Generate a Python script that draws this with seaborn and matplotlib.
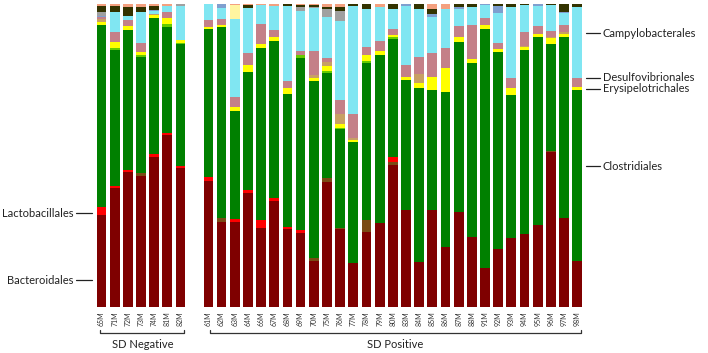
import numpy as np
import pandas as pd
import seaborn as sns
import matplotlib.pyplot as plt

sns.set_style("white")
plt.rcParams['font.family'] = ['Lato', 'DejaVu Sans']

# samples in plotting order
neg_samples = ["65M", "71M", "72M", "73M", "74M", "81M", "82M"]
pos_samples = ["61M", "62M", "63M", "64M", "66M", "67M", "68M", "69M", "70M", "75M",
               "76M", "77M", "78M", "79M", "80M", "83M", "84M", "85M", "86M", "87M",
               "88M", "91M", "92M", "93M", "94M", "95M", "96M", "97M", "98M"]

# relative abundance (%) per order, bottom to top of each bar
bacteroidales = [30.4, 39.3, 44.6, 43.2, 49.5, 56.8, 45.9,
                 41.6, 28.1, 28.1, 37.6, 26.1, 35.0, 25.7, 24.4, 15.2, 41.3,
                 25.7, 14.5, 24.8, 27.7, 46.9, 32.0, 14.9, 32.0, 19.8, 31.4,
                 23.1, 12.9, 19.1, 22.8, 24.1, 27.1, 51.2, 29.4, 15.2]
brown_other = [0, 0, 0, 1.0, 0, 0, 0,
               0, 1.3, 0, 0, 0, 0, 0, 0, 1.0, 1.3,
               0.3, 0, 4.0, 0, 1.0, 0, 0, 0, 0, 0,
               0, 0, 0, 0, 0, 0, 0.3, 0, 0]
lactobacillales = [2.6, 0.7, 0.5, 0, 1.0, 0.7, 0.7,
                   1.3, 0, 1.0, 1.0, 2.6, 1.0, 0.7, 1.0, 0, 0,
                   0, 0, 0, 0, 1.7, 0, 0, 0, 0, 0,
                   0, 0, 0, 0, 0, 0, 0, 0, 0]
clostridiales = [60.1, 44.9, 46.2, 38.3, 44.9, 35.0, 40.3,
                 48.8, 63.0, 35.6, 38.9, 56.8, 51.8, 43.9, 56.8, 58.4, 34.7,
                 32.7, 39.9, 51.8, 55.4, 38.9, 42.9, 57.4, 39.6, 51.2, 56.1,
                 57.5, 78.9, 65.0, 47.2, 60.7, 62.0, 35.3, 59.7, 56.4]
lime_other = [0, 0.7, 0, 0.7, 0, 1.0, 0.3,
              0, 0, 0, 0, 0, 0, 0, 1.0, 0, 0.7,
              0.3, 0, 0.7, 0, 0.7, 0, 0, 0, 0, 0,
              0, 0, 0, 0, 0, 0, 0, 0, 0]
erysipelotrichales = [1.0, 1.7, 1.3, 1.0, 1.0, 2.0, 1.0,
                      0.7, 0.7, 1.3, 2.3, 1.3, 1.3, 2.0, 0, 1.0, 1.7,
                      1.3, 0.7, 2.0, 1.3, 0.7, 1.0, 1.7, 4.3, 7.9, 1.7,
                      1.3, 1.3, 1.0, 2.3, 1.0, 1.0, 2.0, 1.0, 1.0]
tan_other = [1.0, 0, 0, 0, 0.3, 0, 0,
             0, 0, 0, 0, 0, 0, 0, 0, 1.0, 1.3,
             3.3, 0.7, 0, 0, 0, 0, 3.0, 0, 0, 0,
             0, 0, 0, 0, 0.3, 0, 0.3, 0.7, 0]
desulfovibrionales = [0.7, 3.3, 2.0, 3.0, 0, 1.7, 0,
                      2.3, 2.0, 3.3, 4.0, 6.6, 2.3, 2.3, 1.3, 7.9, 1.3,
                      4.6, 7.8, 2.6, 3.3, 2.0, 4.0, 5.6, 7.9, 6.6, 3.6,
                      11.2, 2.3, 2.0, 3.3, 4.6, 2.6, 2.0, 2.3, 3.0]
campylobacterales = [0, 6.6, 1.3, 10.1, 1.0, 2.3, 11.2,
                     5.3, 3.6, 25.7, 14.9, 6.3, 7.9, 24.7, 13.2, 14.2, 13.4,
                     26.2, 35.7, 12.4, 11.3, 6.4, 19.4, 15.7, 11.8, 12.8, 5.6,
                     5.9, 4.3, 9.9, 23.4, 9.0, 6.6, 8.6, 4.0, 23.4]
paleyellow_other = [0, 0, 0, 0, 0, 0, 0,
                    0, 0, 4.6, 0, 0, 0, 0, 0, 0, 0,
                    0, 0, 0, 0, 0, 0, 0, 0, 0, 0,
                    0, 0, 0, 0, 0, 0, 0, 0, 0]
steel_other = [0.3, 0, 0, 0, 0.3, 0, 0,
               0, 1.3, 0, 0, 0, 0, 0, 0, 0, 0,
               0, 0, 0, 0, 0, 0.7, 0, 1.0, 0, 0.6,
               0, 0.3, 2.3, 0, 0, 0.7, 0, 0.3, 0]
gray_other = [1.3, 0, 0, 0, 0, 0, 0.6,
              0, 0, 0, 0, 0, 0, 0, 1.3, 0.3, 2.6,
              3.3, 0, 0, 0, 0, 0, 0, 0, 0, 0,
              0, 0, 0, 0, 0, 0, 0, 0, 0]
olive_other = [2.0, 2.0, 3.0, 1.7, 1.3, 0, 0,
               0, 0, 0, 1.0, 0, 0, 0.7, 0.7, 0.7, 0.7,
               1.3, 0.7, 1.7, 0, 1.7, 0, 1.7, 1.7, 0, 1.0,
               1.0, 0, 0.7, 1.0, 0.3, 0, 0.3, 2.6, 1.0]
salmon_other = [0.6, 0.8, 1.1, 1.0, 0.7, 0.5, 0,
                0, 0, 0.4, 0.3, 0.3, 0.7, 0, 0.3, 0.3, 1.0,
                1.0, 0, 0, 1.0, 0, 0, 0, 1.7, 1.7, 0,
                0, 0, 0, 0, 0, 0, 0, 0, 0]

layers = [
    ("Bacteroidales", bacteroidales, "#7f0000"),
    ("brown", brown_other, "#7a4a14"),
    ("Lactobacillales", lactobacillales, "#ff0000"),
    ("Clostridiales", clostridiales, "#008000"),
    ("lime", lime_other, "#66cc00"),
    ("Erysipelotrichales", erysipelotrichales, "#ffff00"),
    ("tan", tan_other, "#c8a064"),
    ("Desulfovibrionales", desulfovibrionales, "#c48088"),
    ("Campylobacterales", campylobacterales, "#80e6f2"),
    ("paleyellow", paleyellow_other, "#fff5a0"),
    ("steel", steel_other, "#7f9fcf"),
    ("gray", gray_other, "#a0a0a0"),
    ("olive", olive_other, "#333300"),
    ("salmon", salmon_other, "#f4a07f"),
]

samples = neg_samples + pos_samples
df = pd.DataFrame({name: vals for name, vals, _ in layers}, index=samples)
df = df.div(df.sum(axis=1), axis=0) * 100

gap = 1.12
xpos = np.r_[np.arange(len(neg_samples)), np.arange(len(pos_samples)) + len(neg_samples) + gap]

fig = plt.figure(figsize=(7.08, 3.53), dpi=100)
ax = fig.add_axes([0.134, 0.1303, 0.6906, 0.8584])

bottom = np.zeros(len(samples))
for name, _, color in layers:
    ax.bar(xpos, df[name].values, bottom=bottom, width=0.74, color=color, linewidth=0)
    bottom += df[name].values

ax.set_xlim(-0.5, xpos[-1] + 0.5)
ax.set_ylim(0, 100)
ax.set_yticks([])
ax.set_xticks(xpos)
ax.set_xticklabels(samples, rotation=90, fontsize=5, color="#333333")
ax.tick_params(axis="x", length=0, pad=3)
sns.despine(ax=ax, left=True, bottom=True)

# order labels with leader lines
fs = 8
line_kw = dict(color="#222222", lw=0.9, clip_on=False)
left_labels = [("Lactobacillales", 31.0), ("Bacteroidales", 8.9)]
for txt, y in left_labels:
    ax.plot([-1.94, -0.72], [y, y], **line_kw)
    ax.text(-2.1, y, txt, ha="right", va="center", fontsize=fs, color="#222222")

xr = xpos[-1]
right_labels = [("Campylobacterales", 90.4), ("Desulfovibrionales", 75.6),
                ("Erysipelotrichales", 72.0), ("Clostridiales", 46.5)]
for txt, y in right_labels:
    ax.plot([xr + 0.67, xr + 1.73], [y, y], **line_kw)
    ax.text(xr + 1.95, y, txt, ha="left", va="center", fontsize=fs, color="#222222")

# group brackets
def bracket(x0, x1, label):
    yb = -8.6
    ax.plot([x0, x0, x1, x1], [yb + 0.9, yb, yb, yb + 0.9], color="#333333", lw=0.9, clip_on=False)
    ax.text((x0 + x1) / 2, yb - 1.8, label, ha="center", va="top", fontsize=fs, color="#222222")

bracket(-0.1, xpos[len(neg_samples) - 1] + 0.3, "SD Negative")
bracket(xpos[len(neg_samples)] + 0.1, xpos[-1] + 0.3, "SD Positive")

fig.savefig("out.png", dpi=100)
